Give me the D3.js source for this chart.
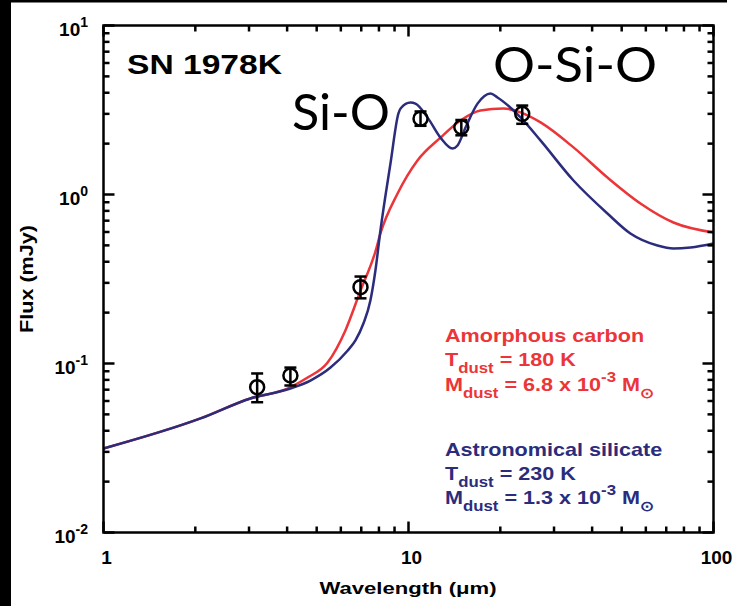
<!DOCTYPE html>
<html><head><meta charset="utf-8">
<script src="https://cdn.jsdelivr.net/npm/d3@7"></script>
<style>body{margin:0;background:#fff}svg{display:block}</style>
</head><body>
<svg id="c" width="740" height="606"></svg>
<script>
// ---- data ----
const xTickLabels = ["1", "10", "100"];
const yTickExps = ["1", "0", "-1", "-2"];

// Astronomical silicate model (blue)
const silLambda = [1.00, 2.08, 3.03, 4.10, 4.77, 5.55, 6.31, 6.70, 7.12, 7.50, 7.79, 8.09, 8.73, 9.27, 9.42, 10.16, 10.54, 11.54, 12.73, 13.94, 14.48, 15.38, 16.84, 18.57, 19.58, 23.30, 27.08, 34.75, 44.9, 53.4, 65.5, 73.9, 84.1, 100];
const silFlux   = [0.0314, 0.0473, 0.0621, 0.0711, 0.0793, 0.0946, 0.119, 0.137, 0.173, 0.236, 0.355, 0.612, 1.53, 3.02, 3.23, 3.50, 3.45, 2.86, 2.17, 1.87, 1.95, 2.49, 3.45, 3.96, 3.75, 2.86, 2.09, 1.21, 0.772, 0.588, 0.499, 0.479, 0.486, 0.513];

// Amorphous carbon model (red)
const carLambda = [1.00, 2.08, 3.03, 4.01, 4.67, 5.43, 6.21, 6.96, 7.79, 8.09, 9.20, 10.7, 12.73, 14.8, 17.2, 20.5, 23.3, 27.1, 34.75, 44.9, 57.6, 73.9, 100];
const carFlux   = [0.0314, 0.0473, 0.0621, 0.0711, 0.0826, 0.1014, 0.157, 0.270, 0.460, 0.588, 1.01, 1.59, 2.17, 2.74, 3.14, 3.23, 3.06, 2.67, 1.90, 1.26, 0.885, 0.683, 0.596];

// Observed photometry
const obsLambda  = [3.19, 4.10, 6.96, 10.95, 14.9, 23.6];
const obsFlux    = [0.0724, 0.0849, 0.283, 2.81, 2.50, 3.00];
const obsErrLow  = [0.0590, 0.0741, 0.243, 2.55, 2.24, 2.62];
const obsErrHigh = [0.0873, 0.0946, 0.327, 3.10, 2.76, 3.36];

const RED = "#ec3539", BLUE = "#2b2c7c";

const svg = d3.select("#c");
const x = d3.scaleLog().domain([1, 100]).range([103.5, 713.5]);
const y = d3.scaleLog().domain([0.01, 10]).range([532.5, 25.5]);

svg.append("rect").attr("width", 740).attr("height", 606).attr("fill", "#fff");

// curves
const line = d3.line().x(d => x(d[0])).y(d => y(d[1])).curve(d3.curveMonotoneX);
svg.append("path").datum(carLambda.map((l, i) => [l, carFlux[i]]))
  .attr("d", line).attr("fill", "none").attr("stroke", RED).attr("stroke-width", 2.5);
svg.append("path").datum(silLambda.map((l, i) => [l, silFlux[i]]))
  .attr("d", line).attr("fill", "none").attr("stroke", BLUE).attr("stroke-width", 2.5);

// observed points
const pts = svg.append("g").attr("stroke", "#000").attr("fill", "none").attr("stroke-width", 2.5);
obsLambda.forEach((l, i) => {
  const cx = x(l);
  pts.append("line").attr("x1", cx).attr("x2", cx).attr("y1", y(obsErrLow[i])).attr("y2", y(obsErrHigh[i]));
  [obsErrLow[i], obsErrHigh[i]].forEach(v => pts.append("line").attr("x1", cx - 6).attr("x2", cx + 6).attr("y1", y(v)).attr("y2", y(v)));
  pts.append("circle").attr("cx", cx).attr("cy", y(obsFlux[i])).attr("r", 7);
});

// frame & ticks
const [x0, x1] = x.range(), [y0, y1] = y.range();
svg.append("rect").attr("x", x0).attr("y", y1).attr("width", x1 - x0).attr("height", y0 - y1)
  .attr("fill", "none").attr("stroke", "#000").attr("stroke-width", 2.5);
const tk = svg.append("g").attr("stroke", "#000").attr("stroke-width", 2.5);
const isMajor = v => Math.abs(Math.log10(v) - Math.round(Math.log10(v))) < 1e-6;
x.ticks().forEach(v => {
  const L = isMajor(v) ? 11 : 6, px = x(v);
  tk.append("line").attr("x1", px).attr("x2", px).attr("y1", y0).attr("y2", y0 - L);
  tk.append("line").attr("x1", px).attr("x2", px).attr("y1", y1).attr("y2", y1 + L);
});
y.ticks().forEach(v => {
  const L = isMajor(v) ? 11 : 6, py = y(v);
  tk.append("line").attr("x1", x0).attr("x2", x0 + L).attr("y1", py).attr("y2", py);
  tk.append("line").attr("x1", x1).attr("x2", x1 - L).attr("y1", py).attr("y2", py);
});

const FONT = "'Liberation Sans', Arial, Helvetica, sans-serif";
// x tick labels
[1, 10, 100].forEach((v, i) => {
  svg.append("text").attr("x", x(v) + 3).attr("y", 564).attr("text-anchor", "middle")
    .attr("font-family", FONT).attr("font-weight", "bold").attr("font-size", 19).attr("fill", "#000")
    .text(xTickLabels[i]);
});
// y tick labels
[10, 1, 0.1, 0.01].forEach((v, i) => {
  const t = svg.append("text").attr("x", 88).attr("y", y(v) + 10).attr("text-anchor", "end")
    .attr("font-family", FONT).attr("font-weight", "bold").attr("font-size", 19).attr("fill", "#000");
  t.append("tspan").text("10");
  t.append("tspan").attr("dy", -9).attr("font-size", 14).text(yTickExps[i]);
});

// axis titles
svg.append("text").attr("x", 408).attr("y", 594).attr("text-anchor", "middle")
  .attr("font-family", FONT).attr("font-weight", "bold").attr("font-size", 17)
  .attr("textLength", 177).attr("lengthAdjust", "spacingAndGlyphs").text("Wavelength (\u03bcm)");
svg.append("text").attr("transform", "translate(33,279) rotate(-90)").attr("text-anchor", "middle")
  .attr("font-family", FONT).attr("font-weight", "bold").attr("font-size", 18)
  .attr("textLength", 108).attr("lengthAdjust", "spacingAndGlyphs").text("Flux (mJy)");

// annotations
svg.append("text").attr("x", 127).attr("y", 74).attr("font-family", FONT).attr("font-weight", "bold")
  .attr("font-size", 28).attr("textLength", 155).attr("lengthAdjust", "spacingAndGlyphs").text("SN 1978K");
svg.append("text").attr("x", 292).attr("y", 130).attr("font-family", "Lato, 'Open Sans', sans-serif")
  .attr("font-size", 51).attr("textLength", 98).attr("lengthAdjust", "spacingAndGlyphs").text("Si-O");
svg.append("text").attr("x", 493).attr("y", 82).attr("font-family", "Lato, 'Open Sans', sans-serif")
  .attr("font-size", 49).attr("textLength", 164).attr("lengthAdjust", "spacingAndGlyphs").text("O-Si-O");

function rich(xp, yp, parts, color) {
  const t = svg.append("text").attr("transform", `translate(${xp},${yp}) scale(1.2,1)`)
    .attr("font-family", FONT).attr("font-weight", "bold").attr("font-size", 18).attr("fill", color);
  let cur = 0;
  parts.forEach(p => {
    const kind = p[1] || "n";
    const target = kind === "sub" ? 7 : kind === "sup" ? -9 : 0;
    const s = t.append("tspan").attr("dy", target - cur).text(p[0]);
    if (kind !== "n") s.attr("font-size", kind === "sun" ? 12 : 14);
    cur = target;
  });
}
rich(445, 342, [["Amorphous carbon"]], RED);
rich(445, 366, [["T"], ["dust", "sub"], [" = 180 K"]], RED);
rich(445, 391, [["M"], ["dust", "sub"], [" = 6.8 x 10"], ["-3", "sup"], [" M"], ["\u2299", "sub"]], RED);
rich(445, 456, [["Astronomical silicate"]], BLUE);
rich(445, 480, [["T"], ["dust", "sub"], [" = 230 K"]], BLUE);
rich(445, 504, [["M"], ["dust", "sub"], [" = 1.3 x 10"], ["-3", "sup"], [" M"], ["\u2299", "sub"]], BLUE);

// black scan borders
svg.append("rect").attr("x", 0).attr("y", 0).attr("width", 11).attr("height", 606).attr("fill", "#000");
svg.append("rect").attr("x", 0).attr("y", 0).attr("width", 727).attr("height", 2.5).attr("fill", "#000");
</script>
</body></html>
